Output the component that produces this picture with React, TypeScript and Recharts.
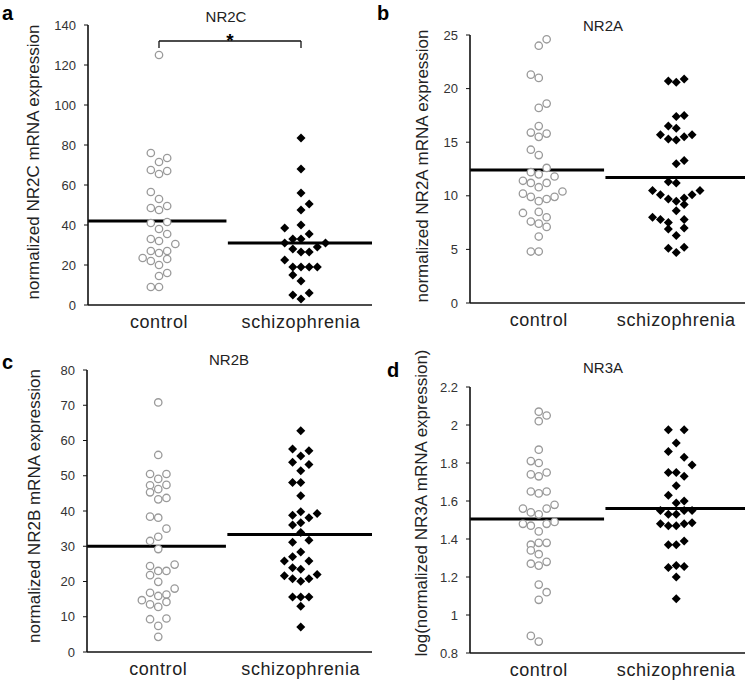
import React from 'react';
import { ScatterChart, Scatter, XAxis, YAxis, ReferenceLine } from 'recharts';

// column slot of each point in the dot plot (0 = centre, -1 left, +1 right ...)
const nr2cControl = [125, 76, 73.5, 71.5, 67.5, 67, 65.5, 56.5, 53, 49.5, 48.5, 47.5, 41, 41.5, 38, 35.5, 33, 32, 30.5, 27, 26, 27, 23.5, 22, 23, 20, 14.5, 16, 9, 9];
const nr2cControlSlot = [0, -1, 1, 0, -1, 1, 0, -1, 0, 1, -1, 0, -1, 1, 0, 1, -1, 0, 2, -1, 0, 1, -2, -1, 1, 0, 0, 1, -1, 0];
const nr2cSchizo = [83.5, 68, 56, 50.5, 47.5, 40, 38.5, 35.5, 33, 33, 31, 31, 29, 28, 26.5, 26.5, 22.5, 19, 19, 19, 19, 15, 12, 5, 6, 3];
const nr2cSchizoSlot = [0, 0, 0, 1, 0, 0, -2, 1, -1, 0, -2, 3, 2, -1, 0, 1, -2, -1, 0, 1, 2, -1, 0, -1, 1, 0];
const nr2cMeans = [42, 31];

const nr2aControl = [24.6, 24, 21.3, 21, 18.6, 18.2, 16.5, 15.9, 15.8, 15.5, 14.3, 13.8, 12.6, 12.2, 12, 11.8, 11.4, 11.2, 11.2, 10.8, 10.4, 10.2, 9.9, 9.9, 9.7, 9.5, 8.4, 8.5, 8, 7.6, 7.4, 7.1, 6.2, 4.8, 4.8];
const nr2aControlSlot = [1, 0, -1, 0, 1, 0, 0, -1, 1, 0, -1, 0, 1, -1, 0, 2, -2, -1, 1, 0, 3, -2, -1, 2, 1, 0, -2, 0, 1, -1, 0, 1, 0, -1, 0];
const nr2aSchizo = [20.7, 20.6, 20.9, 17.4, 17.5, 16.5, 16.3, 15.7, 15.3, 15.2, 15.5, 15.7, 13, 13.3, 11.3, 11.2, 10.5, 10.1, 9.7, 9.5, 9.8, 10.1, 10.5, 9.2, 8.6, 8, 7.8, 7.5, 7.8, 6.9, 7, 6.3, 5.1, 5.2, 4.7];
const nr2aSchizoSlot = [-1, 0, 1, 0, 1, -1, 0, -2, -1, 0, 1, 2, 0, 1, -1, 0, -3, -2, -1, 0, 1, 2, 3, 1, 0, -3, -2, -1, 1, -1, 1, 0, -1, 1, 0];
const nr2aMeans = [12.4, 11.7];

const nr2bControl = [70.8, 55.9, 50.5, 50.5, 49.1, 47.3, 47.4, 46.2, 45.3, 43.3, 43.7, 38.4, 38.1, 35, 32.7, 31.5, 29.2, 24.4, 24.8, 23, 23, 21.8, 19.9, 18, 16.8, 15.9, 16.3, 14.7, 13.5, 14.2, 12.8, 9.3, 9.5, 7.4, 4.3];
const nr2bControlSlot = [0, 0, -1, 1, 0, -1, 1, 0, -1, 0, 1, -1, 0, 1, 0, -1, 0, -1, 2, 0, 1, -1, 0, 2, -1, 0, 1, -2, -1, 1, 0, -1, 1, 0, 0];
const nr2bSchizo = [62.8, 57.6, 57.1, 55.6, 53.8, 53.2, 51.4, 48.1, 48.1, 44.3, 38.8, 39.8, 38.1, 39.3, 36, 36.7, 33.9, 31.1, 31.7, 28.4, 27, 25.8, 25.8, 23.9, 23.5, 21.6, 20.8, 20.1, 20.8, 22, 15.6, 15.6, 15.6, 13, 7.1];
const nr2bSchizoSlot = [0, -1, 1, 0, -1, 1, 0, -1, 0, 0, -1, 0, 1, 2, -1, 0, 0, -1, 1, 0, -1, 1, -2, -1, 0, -2, -1, 0, 1, 2, -1, 0, 1, 0, 0];
const nr2bMeans = [30, 33.3];

const nr3aControl = [2.07, 2.05, 2.02, 1.87, 1.81, 1.8, 1.74, 1.73, 1.75, 1.65, 1.64, 1.65, 1.56, 1.54, 1.53, 1.56, 1.58, 1.48, 1.47, 1.48, 1.49, 1.44, 1.37, 1.38, 1.38, 1.34, 1.32, 1.27, 1.26, 1.28, 1.16, 1.12, 1.08, 0.89, 0.86];
const nr3aControlSlot = [0, 1, 0, 0, -1, 0, -1, 0, 1, -1, 0, 1, -2, -1, 0, 1, 2, -2, -1, 1, 2, 0, -1, 0, 1, -1, 0, -1, 0, 1, 0, 1, 0, -1, 0];
const nr3aSchizo = [1.975, 1.975, 1.905, 1.86, 1.83, 1.79, 1.75, 1.75, 1.73, 1.68, 1.63, 1.59, 1.6, 1.55, 1.53, 1.53, 1.55, 1.55, 1.48, 1.47, 1.47, 1.48, 1.485, 1.37, 1.37, 1.39, 1.25, 1.26, 1.255, 1.2, 1.085];
const nr3aSchizoSlot = [-1, 1, 0, -1, 1, 2, -1, 0, 1, 0, -1, 0, 1, -2, -1, 0, 1, 2, -2, -1, 0, 1, 2, -1, 0, 1, -1, 0, 1, 0, 0];
const nr3aMeans = [1.505, 1.56];

const groups = ['control', 'schizophrenia'];
const groupCentres = [1, 3];

const FONT = '"Liberation Sans", Arial, sans-serif';
const SLOT = 0.115;
const W = 373;
const H = 340;

const toPoints = (values: number[], slots: number[], centre: number) =>
  values.map((v, i) => ({ x: centre + slots[i] * SLOT, y: v }));

const OpenCircle = (p: any) => (
  <circle cx={p.cx} cy={p.cy} r={3.7} fill="#fff" stroke="#9a9a9a" strokeWidth={1.3} />
);

const Diamond = (p: any) => {
  const s = 4.5;
  return (
    <polygon
      points={`${p.cx},${p.cy - s} ${p.cx + s},${p.cy} ${p.cx},${p.cy + s} ${p.cx - s},${p.cy}`}
      fill="#000"
    />
  );
};

interface PanelProps {
  left: number;
  top: number;
  letter: string;
  title: string;
  yLabel: string;
  plotLeft: number;
  plotTop: number;
  plotBottom: number;
  labelX: number;
  labelY: number;
  letterPos: [number, number];
  titlePos: [number, number];
  yDomain: [number, number];
  yTicks: number[];
  control: number[];
  controlSlot: number[];
  schizo: number[];
  schizoSlot: number[];
  means: number[];
  bracket?: { y: number; drop: number };
}

const Panel = (props: PanelProps) => {
  const marginLeft = props.labelX - 10;
  const margin = { top: props.plotTop, right: 1, bottom: 0, left: marginLeft };

  // panel letter, title and rotated y label
  const overlay = () => (
    <g style={{ fontFamily: FONT }}>
      <text x={props.letterPos[0]} y={props.letterPos[1]} fontSize={20} fontWeight="bold" fill="#000">
        {props.letter}
      </text>
      <text x={props.titlePos[0]} y={props.titlePos[1]} fontSize={15} fill="#222" textAnchor="middle">
        {props.title}
      </text>
      <text
        x={props.labelX}
        y={props.labelY}
        fontSize={17}
        fill="#222"
        textAnchor="middle"
        dominantBaseline="central"
        transform={`rotate(-90 ${props.labelX} ${props.labelY})`}
      >
        {props.yLabel}
      </text>
    </g>
  );

  return (
    <div style={{ position: 'absolute', left: props.left, top: props.top, width: W, height: H }}>
      <ScatterChart width={W} height={H} margin={margin}>
        <XAxis
          type="number"
          dataKey="x"
          domain={[0, 4]}
          ticks={groupCentres}
          tickFormatter={(v: number) => groups[groupCentres.indexOf(v)]}
          tickLine={false}
          tickMargin={4}
          axisLine={{ stroke: '#111', strokeWidth: 1.6 }}
          tick={{ fontSize: 18, fill: '#222', fontFamily: FONT, letterSpacing: 0.6 }}
          height={H - props.plotBottom}
        />
        <YAxis
          type="number"
          dataKey="y"
          domain={props.yDomain}
          ticks={props.yTicks}
          interval={0}
          tickSize={4}
          tickMargin={8}
          tickLine={{ stroke: '#111' }}
          axisLine={{ stroke: '#111', strokeWidth: 1.6 }}
          tick={{ fontSize: 13, fill: '#333', fontFamily: FONT }}
          width={props.plotLeft - marginLeft}
          label={{ content: overlay }}
        />
        <Scatter
          data={toPoints(props.control, props.controlSlot, groupCentres[0])}
          shape={OpenCircle}
          isAnimationActive={false}
        />
        <Scatter
          data={toPoints(props.schizo, props.schizoSlot, groupCentres[1])}
          shape={Diamond}
          isAnimationActive={false}
        />
        <ReferenceLine
          segment={[{ x: 0, y: props.means[0] }, { x: 1.95, y: props.means[0] }]}
          stroke="#000"
          strokeWidth={3}
        />
        <ReferenceLine
          segment={[{ x: 1.97, y: props.means[1] }, { x: 4, y: props.means[1] }]}
          stroke="#000"
          strokeWidth={3}
        />
        {props.bracket && (
          <ReferenceLine
            segment={[{ x: groupCentres[0], y: props.bracket.y }, { x: groupCentres[1], y: props.bracket.y }]}
            stroke="#111"
            strokeWidth={1.3}
            label={{ value: '*', position: 'top', offset: -6, fontSize: 19, fontWeight: 'bold', fill: '#000', fontFamily: FONT }}
          />
        )}
        {props.bracket && (
          <ReferenceLine
            segment={[{ x: groupCentres[0], y: props.bracket.y }, { x: groupCentres[0], y: props.bracket.y - props.bracket.drop }]}
            stroke="#111"
            strokeWidth={1.3}
          />
        )}
        {props.bracket && (
          <ReferenceLine
            segment={[{ x: groupCentres[1], y: props.bracket.y }, { x: groupCentres[1], y: props.bracket.y - props.bracket.drop }]}
            stroke="#111"
            strokeWidth={1.3}
          />
        )}
      </ScatterChart>
    </div>
  );
};

export default function App() {
  return (
    <div style={{ position: 'absolute', left: 0, top: 0, width: 746, height: 680, background: '#fff', fontFamily: FONT }}>
      <Panel
        left={0}
        top={0}
        letter="a"
        title="NR2C"
        yLabel="normalized NR2C mRNA expression"
        plotLeft={88}
        plotTop={25}
        plotBottom={305}
        labelX={33}
        labelY={162}
        letterPos={[2, 20]}
        titlePos={[226, 22]}
        yDomain={[0, 140]}
        yTicks={[0, 20, 40, 60, 80, 100, 120, 140]}
        control={nr2cControl}
        controlSlot={nr2cControlSlot}
        schizo={nr2cSchizo}
        schizoSlot={nr2cSchizoSlot}
        means={nr2cMeans}
        bracket={{ y: 132, drop: 3.5 }}
      />
      <Panel
        left={373}
        top={0}
        letter="b"
        title="NR2A"
        yLabel="normalized NR2A mRNA expression"
        plotLeft={97}
        plotTop={35}
        plotBottom={303}
        labelX={49}
        labelY={166}
        letterPos={[4, 20]}
        titlePos={[230, 31]}
        yDomain={[0, 25]}
        yTicks={[0, 5, 10, 15, 20, 25]}
        control={nr2aControl}
        controlSlot={nr2aControlSlot}
        schizo={nr2aSchizo}
        schizoSlot={nr2aSchizoSlot}
        means={nr2aMeans}
      />
      <Panel
        left={0}
        top={340}
        letter="c"
        title="NR2B"
        yLabel="normalized NR2B mRNA expression"
        plotLeft={87}
        plotTop={30}
        plotBottom={312}
        labelX={34}
        labelY={166}
        letterPos={[2, 29]}
        titlePos={[229, 25]}
        yDomain={[0, 80]}
        yTicks={[0, 10, 20, 30, 40, 50, 60, 70, 80]}
        control={nr2bControl}
        controlSlot={nr2bControlSlot}
        schizo={nr2bSchizo}
        schizoSlot={nr2bSchizoSlot}
        means={nr2bMeans}
      />
      <Panel
        left={373}
        top={340}
        letter="d"
        title="NR3A"
        yLabel="log(normalized NR3A mRNA expression)"
        plotLeft={97}
        plotTop={47}
        plotBottom={313}
        labelX={48}
        labelY={163}
        letterPos={[14, 37]}
        titlePos={[230, 33]}
        yDomain={[0.8, 2.2]}
        yTicks={[0.8, 1, 1.2, 1.4, 1.6, 1.8, 2, 2.2]}
        control={nr3aControl}
        controlSlot={nr3aControlSlot}
        schizo={nr3aSchizo}
        schizoSlot={nr3aSchizoSlot}
        means={nr3aMeans}
      />
    </div>
  );
}
